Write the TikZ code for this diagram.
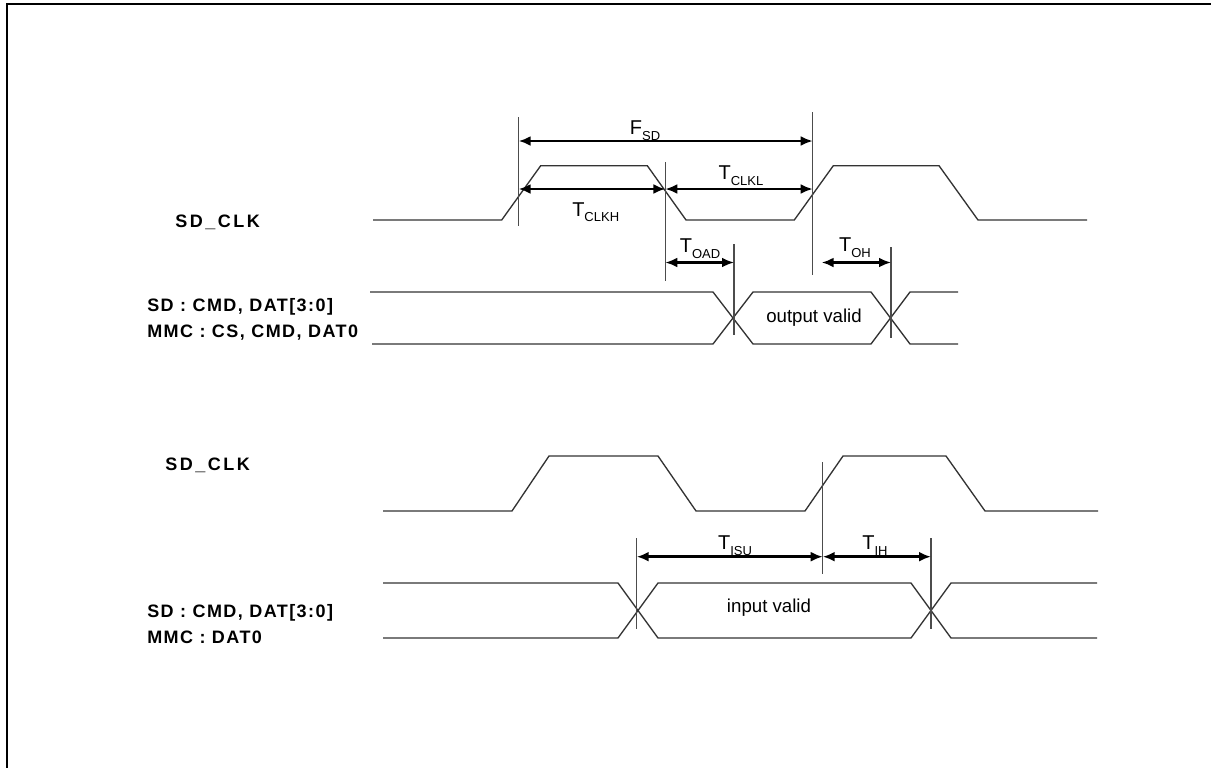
\documentclass[tikz,border=0pt]{standalone}
\usepackage{fontspec}
\setmainfont{Liberation Sans}
\usetikzlibrary{arrows.meta}

\tikzset{
	wave/.style={line width=1pt, black!80},
	guide/.style={line width=1pt, black!70},
	dim/.style={line width=2.2pt, {Latex[length=9pt,width=7.5pt]}-{Latex[length=9pt,width=7.5pt]}},
	sig/.style={anchor=base west, align=left, inner sep=0pt, font=\bfseries\fontsize{13.5}{19.5}\selectfont\addfontfeature{LetterSpace=8}},
	clk/.style={sig, font=\bfseries\fontsize{13.5}{19.5}\selectfont\addfontfeature{LetterSpace=14}},
	tlab/.style={anchor=base, font=\fontsize{15}{18}\selectfont},
	txt/.style={anchor=base, font=\fontsize{14}{17}\selectfont}
}
\newcommand{\tsub}[2]{#1\raisebox{-4.3pt}{\fontsize{9.75}{11}\selectfont #2}}

\begin{document}
\begin{tikzpicture}[x=0.75pt, y=-0.75pt]
	\useasboundingbox (0,0) rectangle (1211,768);
	\draw [line width=2.2pt] (7,780) -- (7,4) -- (1220,4);

	% write cycle
	\node [clk] (clkA) at (175,227.5) {SD\_CLK};
	\node [sig] (busA) at (147,337) {SD : CMD, DAT[3:0]\\MMC : CS, CMD, DAT0};
	\draw [wave] (373,220) -- (501.7,220) -- (540.7,165.7) -- (647.3,165.7) -- (686,220) -- (794.3,220)
		-- (833.3,165.7) -- (939,165.7) -- (978,220) -- (1087,220);
	\draw [wave] (370,292) -- (713,292) -- (753,344) -- (871,344) -- (910,292) -- (958,292);
	\draw [wave] (372,344) -- (713,344) -- (753,292) -- (871,292) -- (910,344) -- (958,344);
	\node [txt] (outv) at (814,322) {output valid};

	\draw [guide] (518.7,117) coordinate (r1) -- (518.7,226);
	\draw [guide] (665.3,162) coordinate (f1) -- (665.3,281);
	\draw [guide] (812.7,112) coordinate (r2) -- (812.7,275);
	\draw [guide] (734,244) coordinate (oad) -- (734,335);
	\draw [guide] (891,247) coordinate (oh) -- (891,338);

	\coordinate (fsdA) at (518.7,141);
	\coordinate (fsdB) at (812.7,141);
	\coordinate (clkL) at (518.7,189);
	\coordinate (clkM) at (665.3,189);
	\coordinate (clkR) at (812.7,189);
	\coordinate (oadA) at (665.3,262.5);
	\coordinate (oadB) at (734,262.5);
	\coordinate (ohA) at (821.7,262.5);
	\coordinate (ohB) at (891,262.5);
	\draw [dim] (fsdA) -- (fsdB);
	\draw [dim] (clkL) -- (clkM);
	\draw [dim] (clkM) -- (clkR);
	\draw [dim] (oadA) -- (oadB);
	\draw [dim] (ohA) -- (ohB);
	\node [tlab] (fsd) at (645,134.3) {\tsub{F}{SD}};
	\node [tlab] (tclkh) at (595.7,216) {\tsub{T}{CLKH}};
	\node [tlab] (tclkl) at (741,179.3) {\tsub{T}{CLKL}};
	\node [tlab] (toad) at (700,252.5) {\tsub{T}{OAD}};
	\node [tlab] (toh) at (855,251.7) {\tsub{T}{OH}};

	% read cycle
	\node [clk] (clkB) at (165,470) {SD\_CLK};
	\node [sig] (busB) at (147,643) {SD : CMD, DAT[3:0]\\MMC : DAT0};
	\draw [wave] (383,511) -- (512,511) -- (549,456) -- (658,456) -- (696,511) -- (805,511)
		-- (843,456) -- (946,456) -- (985,511) -- (1098,511);
	\draw [wave] (383,583) -- (618,583) -- (658,638) -- (911,638) -- (951,583) -- (1097,583);
	\draw [wave] (383,638) -- (618,638) -- (658,583) -- (911,583) -- (951,638) -- (1097,638);
	\node [txt] (inv) at (769,612.7) {input valid};

	\draw [guide] (636.7,538) coordinate (su) -- (636.7,629);
	\draw [guide] (822.7,462) coordinate (r3) -- (822.7,574);
	\draw [guide] (931,538) coordinate (ih) -- (931,629);

	\coordinate (isuA) at (636.7,556.7);
	\coordinate (isuB) at (822.7,556.7);
	\coordinate (ihB) at (931,556.7);
	\draw [dim] (isuA) -- (isuB);
	\draw [dim] (isuB) -- (ihB);
	\node [tlab] (tisu) at (735,549.3) {\tsub{T}{ISU}};
	\node [tlab] (tih) at (875,549.3) {\tsub{T}{IH}};
\end{tikzpicture}
\end{document}
